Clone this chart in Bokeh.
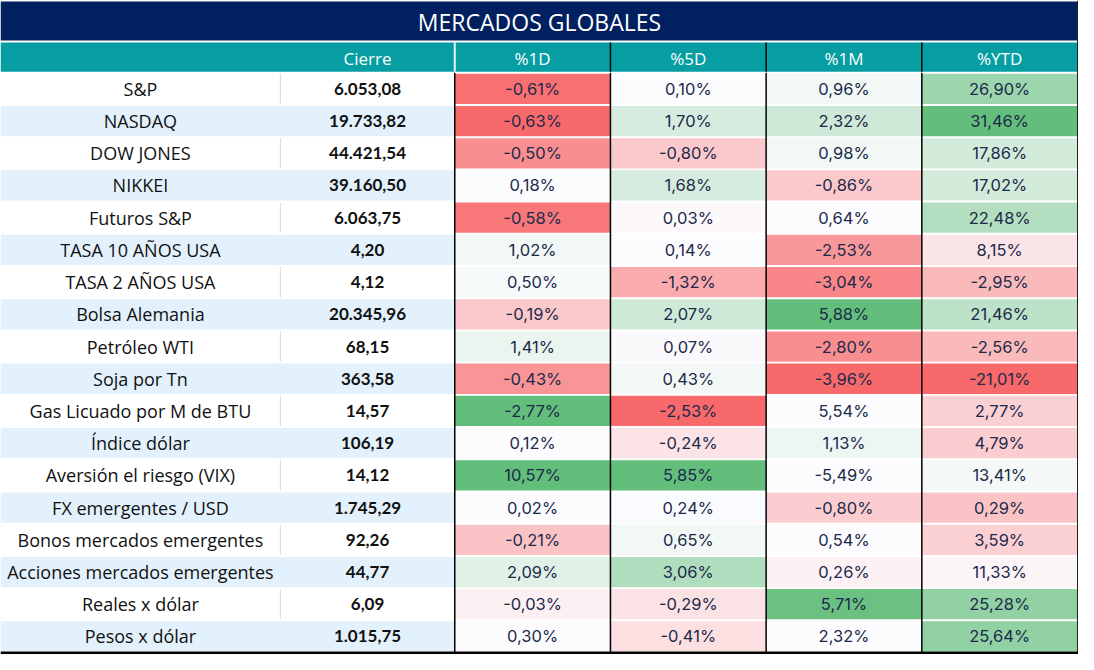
from bokeh.plotting import figure
from bokeh.models import ColumnDataSource, Range1d
from bokeh.core.properties import value
from bokeh.embed import file_html
from bokeh.resources import INLINE

# ---------------- data ----------------
titulo = "MERCADOS GLOBALES"
encabezados = ["", "Cierre", "%1D", "%5D", "%1M", "%YTD"]
nombres = ["S&P", "NASDAQ", "DOW JONES", "NIKKEI", "Futuros S&P", "TASA 10 AÑOS USA",
           "TASA 2 AÑOS USA", "Bolsa Alemania", "Petróleo WTI", "Soja por Tn",
           "Gas Licuado por M de BTU", "Índice dólar", "Aversión el riesgo (VIX)",
           "FX emergentes / USD", "Bonos mercados emergentes", "Acciones mercados emergentes",
           "Reales x dólar", "Pesos x dólar"]
cierre = [6053.08, 19733.82, 44421.54, 39160.50, 6063.75, 4.20, 4.12, 20345.96, 68.15,
          363.58, 14.57, 106.19, 14.12, 1745.29, 92.26, 44.77, 6.09, 1015.75]
pct_1d = [-0.61, -0.63, -0.50, 0.18, -0.58, 1.02, 0.50, -0.19, 1.41, -0.43, -2.77, 0.12,
          10.57, 0.02, -0.21, 2.09, -0.03, 0.30]
pct_5d = [0.10, 1.70, -0.80, 1.68, 0.03, 0.14, -1.32, 2.07, 0.07, 0.43, -2.53, -0.24,
          5.85, 0.24, 0.65, 3.06, -0.29, -0.41]
pct_1m = [0.96, 2.32, 0.98, -0.86, 0.64, -2.53, -3.04, 5.88, -2.80, -3.96, 5.54, 1.13,
          -5.49, -0.80, 0.54, 0.26, 5.71, 2.32]
pct_ytd = [26.90, 31.46, 17.86, 17.02, 22.48, 8.15, -2.95, 21.46, -2.56, -21.01, 2.77, 4.79,
           13.41, 0.29, 3.59, 11.33, 25.28, 25.64]

# colour-scale shade (-1 full red .. +1 full green)
tono_1d = [-0.95, -1.0, -0.75, 0.0, -0.9, 0.07, 0.03, -0.35, 0.12, -0.7, 1.0, 0.0,
           1.0, 0.0, -0.38, 0.18, -0.08, 0.0]
tono_5d = [0.0, 0.25, -0.35, 0.25, -0.03, 0.0, -0.55, 0.3, -0.02, 0.06, -1.0, -0.17,
           1.0, 0.01, 0.07, 0.5, -0.18, -0.2]
tono_1m = [0.07, 0.3, 0.07, -0.35, 0.0, -0.68, -0.8, 1.0, -0.75, -1.0, 0.0, 0.1,
           0.0, -0.32, 0.0, -0.07, 0.95, 0.0]
tono_ytd = [0.62, 1.0, 0.27, 0.27, 0.48, -0.16, -0.45, 0.42, -0.45, -1.0, -0.3, -0.32,
            0.05, -0.38, -0.3, -0.05, 0.7, 0.7]

# ---------------- layout ----------------
W, H = 1094, 670
col_edges = [0, 284, 461, 619, 777, 935, 1093]
title_top, title_bot = 1, 41
head_top, head_bot = 43, 73
row_top0, row_h = 74, 33

NAVY = "#00205F"
TEAL = "#069EA3"
BLUE_ROW = "#E3F1FC"
WHITE = (252, 252, 255)
RED = (248, 105, 107)
GREEN = (99, 190, 123)


def shade(t):
    tgt = GREEN if t >= 0 else RED
    a = min(abs(t), 1.0)
    r, g, b = (round(WHITE[k] + (tgt[k] - WHITE[k]) * a) for k in range(3))
    return f"#{r:02x}{g:02x}{b:02x}"


def fmt_num(v):
    s = f"{v:,.2f}"
    return s.replace(",", "X").replace(".", ",").replace("X", ".")


def fmt_pct(v):
    return f"{v:.2f}".replace(".", ",") + "%"


p = figure(width=1078, height=654, output_backend="svg", toolbar_location=None,
           x_range=Range1d(0, W), y_range=Range1d(H, 0), min_border=0)
p.axis.visible = False
p.grid.visible = False
p.outline_line_color = None
p.background_fill_color = "white"
p.border_fill_color = "white"

# title bar
p.quad(left=[0], right=[W], top=[title_top], bottom=[title_bot], fill_color=NAVY, line_color=None)
p.text(x=[W / 2], y=[(title_top + title_bot) / 2 + 1], text=[titulo], text_color="white",
       text_font=value("Open Sans"), text_font_size="23px", text_align="center",
       text_baseline="middle")

# header
p.quad(left=[0], right=[W], top=[head_top], bottom=[head_bot], fill_color=TEAL, line_color=None)
centers = [(col_edges[i] + col_edges[i + 1]) / 2 for i in range(6)]
p.text(x=centers[1:], y=[(head_top + head_bot) / 2 + 1] * 5, text=encabezados[1:],
       text_color="white", text_font=value("Open Sans"), text_font_size="17px",
       text_align="center", text_baseline="middle")

n = len(nombres)
tops = [row_top0 + i * row_h + 1 for i in range(n)]
bots = [row_top0 + (i + 1) * row_h - 1 for i in range(n)]
mids = [row_top0 + i * row_h + row_h / 2 for i in range(n)]

# name / cierre background bands
band_cols = ["white" if i % 2 == 0 else BLUE_ROW for i in range(n)]
p.quad(left=[0] * n, right=[col_edges[2]] * n, top=tops, bottom=bots,
       fill_color=band_cols, line_color=None)
# light separator between name and cierre on white rows
wt = [i for i in range(n) if i % 2 == 0]
p.segment(x0=[col_edges[1]] * len(wt), x1=[col_edges[1]] * len(wt),
          y0=[tops[i] for i in wt], y1=[bots[i] for i in wt], line_color="#D9D9D9", line_width=1)

# percentage cells
series = [pct_1d, pct_5d, pct_1m, pct_ytd]
tonos = [tono_1d, tono_5d, tono_1m, tono_ytd]
for j in range(4):
    l, r = col_edges[j + 2], col_edges[j + 3]
    src = ColumnDataSource(dict(
        left=[l] * n, right=[r] * n, top=tops, bottom=bots,
        color=[shade(t) for t in tonos[j]],
        x=[(l + r) / 2] * n, y=mids, txt=[fmt_pct(v) for v in series[j]]))
    p.quad(left="left", right="right", top="top", bottom="bottom", fill_color="color",
           line_color=None, source=src)
    p.text(x="x", y="y", text="txt", source=src, text_color="#1B2A4A",
           text_font=value("Inter"), text_font_size="16.5px", text_align="center",
           text_baseline="middle")

# row labels and closing values
p.text(x=[centers[0]] * n, y=mids, text=nombres, text_color="#111111",
       text_font=value("Open Sans"), text_font_size="18px", text_align="center",
       text_baseline="middle")
p.text(x=[centers[1]] * n, y=mids, text=[fmt_num(v) for v in cierre], text_color="#111111",
       text_font=value("Lato"), text_font_size="17px", text_font_style="bold",
       text_align="center", text_baseline="middle")

# borders
p.segment(x0=[col_edges[2]], x1=[col_edges[2]], y0=[head_top], y1=[head_bot],
          line_color="#E8F4F8", line_width=2)
xs = col_edges[2:6]
p.segment(x0=xs, x1=xs, y0=[row_top0] * 4, y1=[668] * 4, line_color="black", line_width=1.5)
xs2 = col_edges[3:6]
p.segment(x0=xs2, x1=xs2, y0=[head_top] * 3, y1=[head_bot] * 3, line_color="black", line_width=1.5)
p.segment(x0=[W - 0.5], x1=[W - 0.5], y0=[0], y1=[H], line_color="#222222", line_width=2)
p.segment(x0=[0], x1=[W], y0=[668.5], y1=[668.5], line_color="black", line_width=3)

open("out.html", "w").write(file_html(p, INLINE))
